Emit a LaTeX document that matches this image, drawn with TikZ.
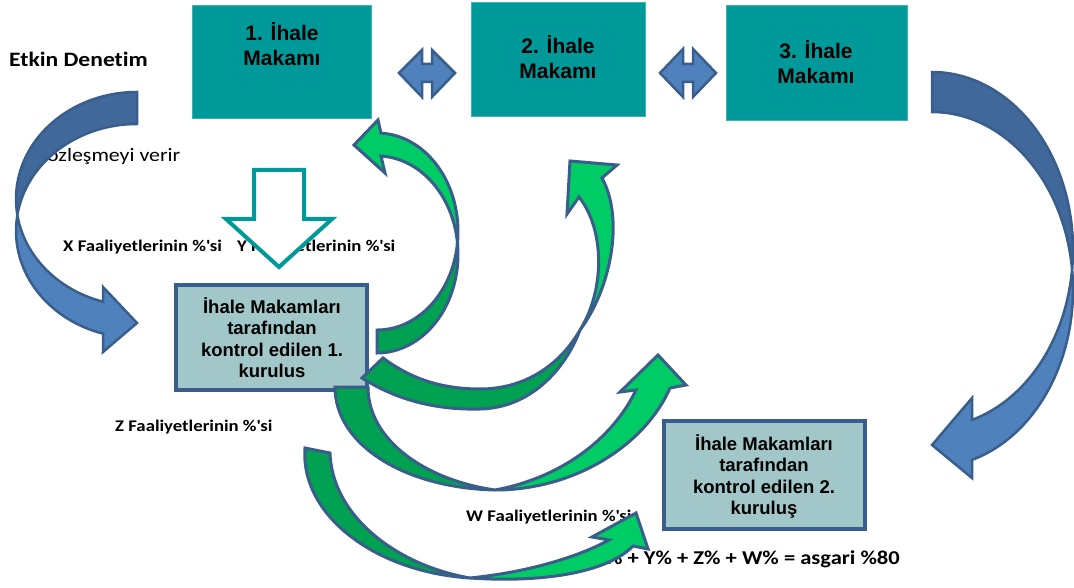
\documentclass[tikz,border=0pt]{standalone}
\usepackage{fontspec}
\newfontfamily\calib[FakeStretch=1.15,Ligatures=NoCommon]{Carlito}
\newfontfamily\arialf{Liberation Sans}
\definecolor{teal1}{RGB}{0,153,153}
\definecolor{boxfill}{RGB}{161,199,200}
\definecolor{navy}{RGB}{58,94,139}
\definecolor{bdark}{RGB}{64,104,154}
\definecolor{blight}{RGB}{79,129,189}
\definecolor{gbright}{RGB}{0,204,102}
\definecolor{gdark}{RGB}{0,161,80}
\begin{document}
\begin{tikzpicture}[x=1pt,y=-1pt,
 topbox/.style={fill=teal1, draw=teal1!75!white, line width=0.8pt, inner sep=0pt, outer sep=0pt},
 subbox/.style={fill=boxfill, draw=navy, line width=4pt, inner sep=0pt},
 toptxt/.style={font=\arialf\bfseries\fontsize{21}{25}\selectfont, align=center, inner sep=0pt, anchor=north},
 subtxt/.style={font=\arialf\bfseries\fontsize{18.5}{21.5}\selectfont, align=center, inner sep=0pt, anchor=north},
 lbl/.style={font=\calib\bfseries\fontsize{16.3}{19}\selectfont, inner sep=0pt, anchor=base west},
 dbl/.style={fill=blight, draw=navy, line width=2.5pt, line join=miter},
 hollow/.style={fill=white, draw=teal1, line width=4pt, line join=miter},
 bback/.style={fill=bdark, draw=navy, line width=2.5pt, line join=miter},
 bfront/.style={fill=blight, draw=navy, line width=2.5pt, line join=miter},
 gback/.style={fill=gdark, draw=navy, line width=3pt, line join=miter},
 gfront/.style={fill=gbright, draw=navy, line width=3pt, line join=miter},
]
\useasboundingbox (0,0) rectangle (1074,588);

% top boxes
\node[topbox, minimum width=179pt, minimum height=113pt] (b1) at (281.5,61.5) {};
\node[topbox, minimum width=174pt, minimum height=114pt] (b2) at (558,59) {};
\node[topbox, minimum width=181pt, minimum height=115pt] (b3) at (816.5,62.5) {};
\node[toptxt] (t1) at (282,22) {1. İhale\\Makamı};
\node[toptxt] (t2) at (558,35) {2. İhale\\Makamı};
\node[toptxt] (t3) at (816,40) {3. İhale\\Makamı};

% double arrows
\filldraw[dbl] (399,73) -- (422,50) -- (422,64) -- (432,64) -- (432,50) -- (455,73) -- (432,97) -- (432,82) -- (422,82) -- (422,97) -- cycle;
\filldraw[dbl] (660,73) -- (683,49) -- (683,64) -- (693,64) -- (693,49) -- (716,73) -- (693,97) -- (693,82) -- (683,82) -- (683,97) -- cycle;

% labels
\node[font=\calib\bfseries\fontsize{20.5}{24}\selectfont, inner sep=0pt, anchor=base west] (ed) at (9,67) {Etkin Denetim};
\node[font=\calib\fontsize{19}{22}\selectfont, inner sep=0pt, anchor=base west] (sv) at (37,162) {Sözleşmeyi verir};
\node[lbl] (lx) at (63,252) {X Faaliyetlerinin \%\textquotesingle si};
\node[lbl] (ly) at (237,252) {Y Faaliyetlerinin \%\textquotesingle si};
\node[lbl] (lz) at (115,431) {Z Faaliyetlerinin \%\textquotesingle si};
\node[lbl] (lw) at (466,521) {W Faaliyetlerinin \%\textquotesingle si};
\node[font=\calib\bfseries\fontsize{19.6}{23}\selectfont, inner sep=0pt, anchor=base east] (eq) at (900,564) {X\% + Y\% + Z\% + W\% = asgari \%80};

% hollow down arrow
\filldraw[hollow] (254,170) -- (304,170) -- (304,219) -- (332,219) -- (279,267) -- (226,219) -- (254,219) -- cycle;

% left blue curved arrow
\filldraw[bback] (137,92) arc[start angle=270, end angle=171.4, x radius=121, y radius=107]
  arc[start angle=188.6, end angle=270, x radius=121, y radius=107] -- cycle;
\filldraw[bfront] (17.4,215) arc[start angle=188.6, end angle=106.3, x radius=121, y radius=107]
  -- (103,352) -- (137,323) -- (103,287) -- (103,301.7)
  arc[start angle=106.3, end angle=171.4, x radius=121, y radius=107] -- cycle;

% right blue curved arrow
\filldraw[bback] (932,72) arc[start angle=-90, end angle=6.47, x radius=141, y radius=177.6]
  arc[start angle=-6.47, end angle=-90, x radius=141, y radius=177.6] -- cycle;
\filldraw[bfront] (1072.1,269.6) arc[start angle=-6.47, end angle=73.5, x radius=141, y radius=177.6]
  -- (972,478) -- (932,445) -- (972,398) -- (972,419.9)
  arc[start angle=73.5, end angle=6.47, x radius=141, y radius=177.6] -- cycle;

% bottom boxes
\node[subbox, minimum width=191pt, minimum height=105pt] (k1) at (271.5,337.5) {};
\node[subbox, minimum width=201pt, minimum height=108pt] (k2) at (764.5,475) {};
\node[subtxt] (k1t) at (272,297) {İhale Makamları\\tarafından\\kontrol edilen 1.\\kurulus};
\node[subtxt] (k2t) at (764,434) {İhale Makamları\\tarafından\\kontrol edilen 2.\\kuruluş};

% green arrow G3
\filldraw[gback] (335,387) .. controls (335,445) and (405,488) .. (495,490) .. controls (425,480) and (368,440) .. (368,387) -- cycle;
\filldraw[gfront] (495,490) .. controls (575,490) and (645,445) .. (670,388) -- (686,385) -- (658,355) -- (620,392) -- (636,390) .. controls (612,440) and (560,478) .. (495,490) -- cycle;

% green arrow G4
\filldraw[gback] (305,448) .. controls (300,515) and (375,572) .. (470,578) .. controls (395,565) and (332,515) .. (330,453) -- cycle;
\filldraw[gfront] (470,578) .. controls (545,583) and (608,572) .. (633,546) -- (648,549) -- (636,513) -- (592,537) -- (609,540) .. controls (580,556) and (530,572) .. (470,578) -- cycle;

% green arrow G1
\filldraw[gback] (377,353) arc[start angle=90, end angle=-6.7, x radius=81, y radius=98.5]
  arc[start angle=6.7, end angle=90, x radius=81, y radius=98.5] -- cycle;
\filldraw[gfront] (457.45,243) arc[start angle=6.7, end angle=-87.2, x radius=81, y radius=98.5]
  -- (378,120) -- (354,145) -- (385,173) -- (381,156.1)
  arc[start angle=-87.2, end angle=-6.7, x radius=81, y radius=98.5] -- cycle;

% green arrow G2
\filldraw[gback] (362,378) .. controls (400,402) and (440,410) .. (480,409) .. controls (530,408) and (565,370) .. (580,330) .. controls (560,365) and (525,389) .. (480,389) .. controls (440,389) and (410,378) .. (383,358) -- cycle;
\filldraw[gfront] (580,330) .. controls (610,290) and (625,220) .. (602,178) -- (617,165) -- (570,161) -- (567,214) -- (579,197) .. controls (605,230) and (605,290) .. (580,330) -- cycle;
\end{tikzpicture}
\end{document}
